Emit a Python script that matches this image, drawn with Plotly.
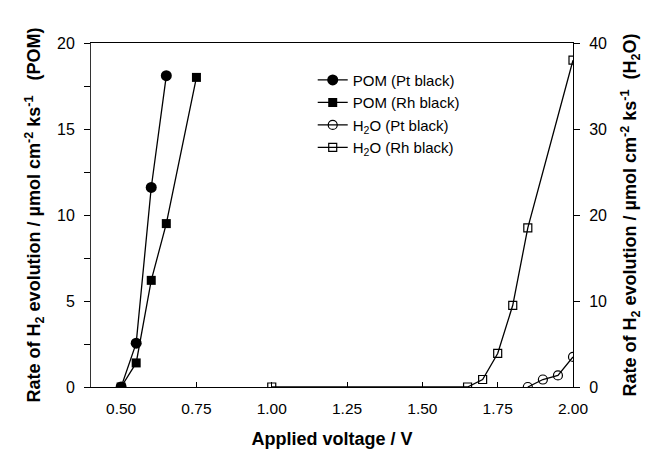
import plotly.graph_objects as go

# Data
pom_pt_x = [0.50, 0.55, 0.60, 0.65]
pom_pt_y = [0.0, 2.55, 11.6, 18.1]
pom_rh_x = [0.50, 0.55, 0.60, 0.65, 0.75]
pom_rh_y = [0.0, 1.4, 6.2, 9.5, 18.0]
h2o_pt_x = [1.85, 1.90, 1.95, 2.00]
h2o_pt_y = [0.0, 0.87, 1.35, 3.5]
h2o_rh_x = [1.00, 1.65, 1.70, 1.75, 1.80, 1.85, 2.00]
h2o_rh_y = [0.0, 0.0, 0.87, 3.9, 9.5, 18.5, 38.0]

x_ticks = [0.5, 0.75, 1.0, 1.25, 1.5, 1.75, 2.0]
x_ticktext = ["0.50", "0.75", "1.00", "1.25", "1.50", "1.75", "2.00"]
y_ticks = [0, 5, 10, 15, 20]
y2_ticks = [0, 10, 20, 30, 40]

font = "Liberation Sans, Arial, sans-serif"
fig = go.Figure()
fig.add_trace(go.Scatter(x=pom_pt_x, y=pom_pt_y, mode="lines+markers", name="POM (Pt black)",
                         line=dict(color="black", width=1.3),
                         marker=dict(symbol="circle", size=11, color="black")))
fig.add_trace(go.Scatter(x=pom_rh_x, y=pom_rh_y, mode="lines+markers", name="POM (Rh black)",
                         line=dict(color="black", width=1.3),
                         marker=dict(symbol="square", size=9, color="black")))
fig.add_trace(go.Scatter(x=h2o_pt_x, y=h2o_pt_y, mode="lines+markers", name="H<sub>2</sub>O (Pt black)",
                         yaxis="y2", line=dict(color="black", width=1.3),
                         marker=dict(symbol="circle-open", size=9, color="black", line=dict(width=1.2))))
fig.add_trace(go.Scatter(x=h2o_rh_x, y=h2o_rh_y, mode="lines+markers", name="H<sub>2</sub>O (Rh black)",
                         yaxis="y2", line=dict(color="black", width=1.3),
                         marker=dict(symbol="square-open", size=8, color="black", line=dict(width=1.2))))

fig.update_layout(
    width=641, height=441,
    margin=dict(l=83, r=76, t=35, b=62),
    paper_bgcolor="white", plot_bgcolor="white",
    font=dict(family=font, size=15, color="black"),
    showlegend=True,
    legend=dict(x=0.46, y=0.94, xanchor="left", yanchor="top", bgcolor="rgba(0,0,0,0)",
                font=dict(size=15), tracegroupgap=0, itemwidth=30),
    xaxis=dict(range=[0.4, 2.0], tickvals=x_ticks, ticktext=x_ticktext, automargin=False,
               ticks="inside", ticklen=5, tickcolor="black", showline=True, linecolor="black",
               linewidth=1, mirror=True, showgrid=False, zeroline=False,
               tickfont=dict(size=15.5), ticklabelstandoff=7,
               title=dict(text="<b>Applied voltage / V</b>", font=dict(size=18), standoff=18)),
    yaxis=dict(range=[0, 20], tickvals=y_ticks, ticks="outside", ticklen=6, automargin=False,
               tickcolor="black", showline=True, linecolor="#333", linewidth=1,
               showgrid=False, zeroline=False, tickfont=dict(size=16), ticklabelstandoff=6,
               minor=dict(dtick=2.5, ticks="outside", ticklen=6, tickcolor="black", showgrid=False),
               title=dict(text="<b>Rate of H<sub>2</sub> evolution / µmol cm<sup>-2</sup> ks<sup>-1</sup>   (POM)</b>",
                          font=dict(size=18), standoff=11)),
    yaxis2=dict(range=[0, 40], tickvals=y2_ticks, overlaying="y", side="right", automargin=False,
                ticks="outside", ticklen=6, tickcolor="black", showline=True, linecolor="black",
                linewidth=1, showgrid=False, zeroline=False, tickfont=dict(size=16), ticklabelstandoff=6,
                title=dict(text="<b>Rate of H<sub>2</sub> evolution / µmol cm<sup>-2</sup> ks<sup>-1</sup>  (H<sub>2</sub>O)</b>",
                           font=dict(size=18), standoff=17)),
)
fig.write_html("out.html")
